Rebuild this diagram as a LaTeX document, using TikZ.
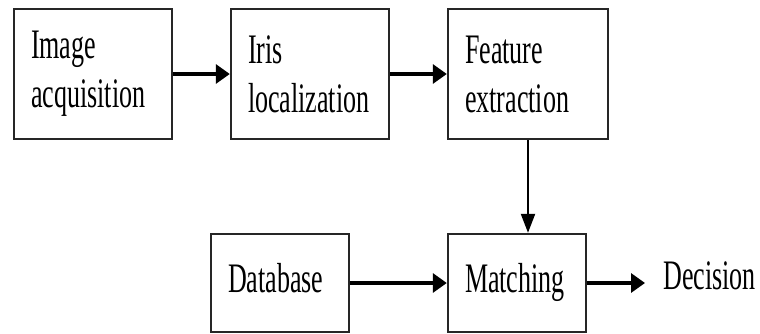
\documentclass[tikz,border=0pt]{standalone}
\usepackage{fontspec}
\newfontfamily\stagefont[FakeStretch=0.62]{Liberation Serif}
\usetikzlibrary{arrows.meta}

\tikzset{
  stagebox/.style={draw=black!85, line width=2.4pt, inner xsep=17pt, inner ysep=0pt,
    align=left, font=\stagefont\fontsize{42}{49}\selectfont},
  toprow/.style={stagebox, minimum height=130pt},
  lowrow/.style={stagebox, minimum height=98pt, text height=28pt, text depth=9pt},
  flowh/.style={line width=3.2pt, -{Triangle[length=14pt,width=19pt]}},
  flowv/.style={line width=2.2pt, -{Triangle[length=19pt,width=14pt]}},
}

\begin{document}
\begin{tikzpicture}[x=1pt,y=1pt,yscale=-1,xscale=1]
	% Page is 760 wide and 333 high
	\useasboundingbox (0,0) rectangle (760,333);

	% Top row of stages
	\node[toprow, text width=124pt] (acq) at (93,74) {Image\\acquisition};
	\node[toprow, text width=124pt] (iris) at (310,74) {Iris\\localization};
	\node[toprow, text width=126pt] (feat) at (528,74) {Feature\\extraction};

	% Bottom row: stored templates and the comparison
	\node[lowrow, text width=104pt] (db) at (280,283) {Database};
	\node[lowrow, text width=104pt] (match) at (517,283) {Matching};

	% Output label, no box
	\node[font=\stagefont\fontsize{42}{49}\selectfont, anchor=west, inner xsep=18pt, inner ysep=0pt] (dec) at (645,276) {Decision};

	% Arrows along the top row
	\draw[flowh] (acq) -- (iris);
	\draw[flowh] (iris) -- (feat);

	% Down from the features into matching
	\draw[flowv] (feat.south) -- (feat.south |- match.north);

	% Database into matching, then out to the decision
	\draw[flowh] (db) -- (match);
	\draw[flowh] (match.east) -- (match.east -| dec.west);
\end{tikzpicture}
\end{document}
